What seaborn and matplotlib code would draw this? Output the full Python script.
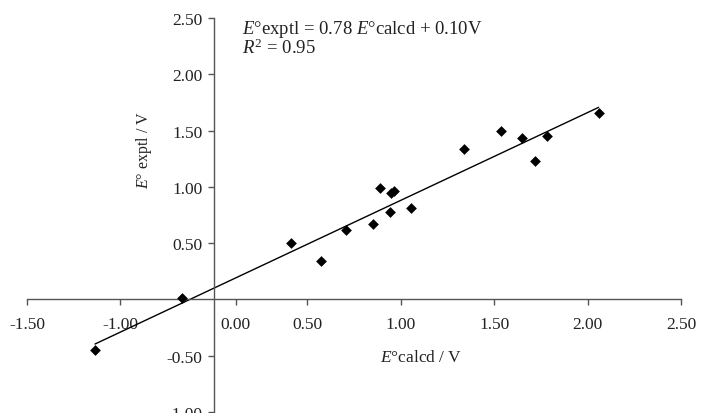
import numpy as np
import pandas as pd
import seaborn as sns
import matplotlib.pyplot as plt

# values
e_calcd = [-0.636, -0.173, 0.415, 0.572, 0.706, 0.854, 0.891, 0.945, 0.950,
           0.963, 1.057, 1.339, 1.538, 1.647, 1.720, 1.781, 2.059]
e_exptl = [-0.453, 0.015, 0.497, 0.340, 0.615, 0.669, 0.992, 0.775, 0.941,
           0.962, 0.814, 1.338, 1.492, 1.433, 1.226, 1.456, 1.655]
slope = 0.78
intercept = 0.10

x_ticks = [-1.0, -0.5, 0.118, 0.5, 1.0, 1.5, 2.0, 2.5]
x_tick_labels = ["-1.50", "-1.00", "0.00", "0.50", "1.00", "1.50", "2.00", "2.50"]
y_ticks = [-1.0, -0.5, 0.5, 1.0, 1.5, 2.0, 2.5]
y_tick_labels = ["-1.00", "-0.50", "0.50", "1.00", "1.50", "2.00", "2.50"]

sns.set_style("ticks")
plt.rcParams['font.family'] = ['Liberation Serif', 'DejaVu Serif']
plt.rcParams['mathtext.fontset'] = 'custom'
plt.rcParams['mathtext.rm'] = 'Liberation Serif'
plt.rcParams['mathtext.it'] = 'Liberation Serif:italic'

df = pd.DataFrame({'calcd': e_calcd, 'exptl': e_exptl})

fig = plt.figure(figsize=(7.01, 4.14), dpi=100)
W, H = 701, 414
ax = fig.add_axes([27 / W, 1 / H, (681 - 27) / W, (413 - 19) / H])

sns.scatterplot(data=df, x='calcd', y='exptl', marker='D', s=30, color='black',
                linewidth=0, ax=ax, zorder=3)
fx = np.array([min(e_calcd), max(e_calcd)])
ax.plot(fx, slope * fx + intercept, color='black', lw=1.0, zorder=2)

ax.set_xlim(-1.0, 2.5)
ax.set_ylim(-1.0, 2.5)
ax.spines['left'].set_position(('data', 0))
ax.spines['bottom'].set_position(('data', 0))
ax.spines['top'].set_visible(False)
ax.spines['right'].set_visible(False)
for s in ['left', 'bottom']:
    ax.spines[s].set_color('#555555')
    ax.spines[s].set_linewidth(1.0)

ax.set_xticks(x_ticks)
ax.set_xticklabels(x_tick_labels)
ax.set_yticks(y_ticks)
ax.set_yticklabels(y_tick_labels)
ax.tick_params(axis='both', direction='out', length=4, width=1.0, color='#555555',
               labelsize=12.5, labelcolor='#222222')
ax.tick_params(axis='x', pad=8)
ax.tick_params(axis='y', pad=4)
ax.set_xlabel('')
ax.set_ylabel('')

fig.text(421 / W, 1 - 358 / H, r'$E$°calcd / V', ha='center', va='center',
         fontsize=12.5, color='#222222')
fig.text(144 / W, 1 - 150 / H, r'$E$° exptl / V', ha='center', va='center',
         rotation=90, fontsize=11.5, color='#222222')
fig.text(242 / W, 1 - 29 / H, r'$E$°exptl = 0.78 $E$°calcd + 0.10V',
         ha='left', va='center', fontsize=13.5, color='#222222')
fig.text(242 / W, 1 - 48 / H, r'$R^2$ = 0.95',
         ha='left', va='center', fontsize=13.5, color='#222222')

plt.savefig("out.png", dpi=100)
